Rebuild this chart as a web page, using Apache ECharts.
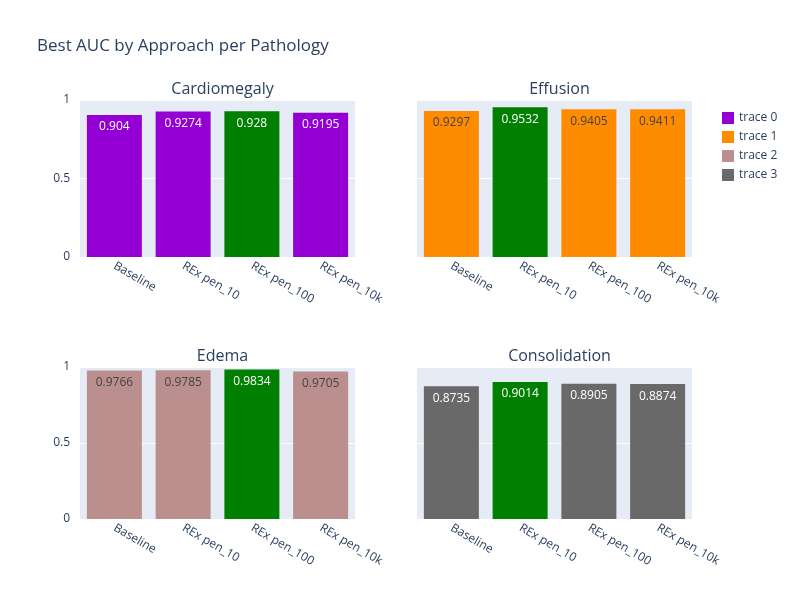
<!DOCTYPE html>
<html>
<head>
<meta charset="utf-8">
<script src="https://cdn.jsdelivr.net/npm/echarts@6/dist/echarts.min.js"></script>
<style>body{margin:0}#main{width:800px;height:600px}</style>
</head>
<body>
<div id="main"></div>
<script>
var approaches = ['Baseline', 'REx pen_10', 'REx pen_100', 'REx pen_10k'];
var pathologies = ['Cardiomegaly', 'Effusion', 'Edema', 'Consolidation'];
var cardiomegaly = [0.904, 0.9274, 0.928, 0.9195];
var effusion = [0.9297, 0.9532, 0.9405, 0.9411];
var edema = [0.9766, 0.9785, 0.9834, 0.9705];
var consolidation = [0.8735, 0.9014, 0.8905, 0.8874];
var allValues = [cardiomegaly, effusion, edema, consolidation];
var traceColors = ['#9400D3', '#FF8C00', '#BC8F8F', '#696969'];
var labelColors = ['#fff', '#444', '#444', '#fff'];
var bestColor = '#008000';
var yTicks = [0, 0.5, 1];

function Set_Chart() {
    var chart = echarts.init(document.getElementById('main'), null, { renderer: 'canvas' });
    var font = '"Open Sans", sans-serif';
    var pos = [
        { left: 80, top: 100, height: 157 },
        { left: 417, top: 100, height: 157 },
        { left: 80, top: 367, height: 152 },
        { left: 417, top: 367, height: 152 }
    ];
    var grids = [], xAxes = [], yAxes = [], series = [], titles = [];
    titles.push({
        text: 'Best AUC by Approach per Pathology', left: 32, top: 33,
        textStyle: { color: '#2a3f5f', fontSize: 17, fontWeight: 'normal', fontFamily: font }
    });
    for (var i = 0; i < 4; i++) {
        var p = pos[i];
        grids.push({ left: p.left, top: p.top, width: 275, height: p.height, backgroundColor: '#E5ECF6', show: true, borderWidth: 0 });
        titles.push({
            text: pathologies[i], left: p.left + 137.5, top: p.top - 24, textAlign: 'center',
            textStyle: { color: '#2a3f5f', fontSize: 16, fontWeight: 'normal', fontFamily: font }
        });
        xAxes.push({
            type: 'category', gridIndex: i, data: approaches,
            axisLine: { show: false }, axisTick: { show: false },
            axisLabel: { rotate: -30, color: '#2a3f5f', fontSize: 12, fontFamily: font, margin: 8 }
        });
        yAxes.push({
            type: 'value', gridIndex: i, min: 0, max: 1, interval: 0.5,
            axisLine: { show: false }, axisTick: { show: false },
            splitLine: { lineStyle: { color: '#fff', width: 1 } },
            axisLabel: {
                show: i % 2 === 0, color: '#2a3f5f', fontSize: 12, fontFamily: font, margin: 10,
                formatter: function (v) { return yTicks.indexOf(v) >= 0 ? String(v) : ''; }
            }
        });
        var vals = allValues[i];
        var best = Math.max.apply(null, vals);
        series.push({
            name: 'trace ' + i, type: 'bar', xAxisIndex: i, yAxisIndex: i,
            barCategoryGap: '20%',
            itemStyle: { color: traceColors[i] },
            data: vals.map(function (v) {
                var isBest = v === best;
                return {
                    value: v,
                    itemStyle: { color: isBest ? bestColor : traceColors[i] },
                    label: { color: isBest ? '#fff' : labelColors[i] }
                };
            }),
            label: {
                show: true, position: 'insideTop', distance: 6, fontSize: 12, fontFamily: font,
                formatter: function (prm) { return String(prm.value); }
            }
        });
    }
    var option = {
        backgroundColor: '#fff',
        title: titles,
        grid: grids,
        xAxis: xAxes,
        yAxis: yAxes,
        legend: {
            orient: 'vertical', left: 717, top: 107, icon: 'rect', itemWidth: 12, itemHeight: 12,
            itemGap: 7, textStyle: { color: '#2a3f5f', fontSize: 12, fontFamily: font },
            data: ['trace 0', 'trace 1', 'trace 2', 'trace 3']
        },
        series: series
    };
    chart.setOption(option);
}
Set_Chart();
</script>
</body>
</html>
